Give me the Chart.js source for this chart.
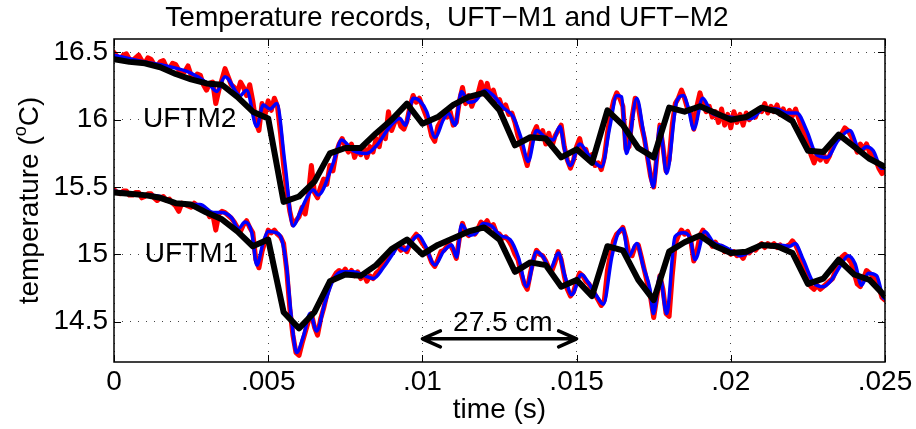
<!DOCTYPE html>
<html>
<head>
<meta charset="utf-8">
<script src="https://cdn.jsdelivr.net/npm/chart.js@4.4.0/dist/chart.umd.min.js"></script>
<style>
  html, body { margin: 0; padding: 0; background: #fff; }
  #wrap { width: 916px; height: 429px; }
</style>
</head>
<body>
<div id="wrap"><canvas id="tempChart" width="916" height="429"></canvas></div>
<script>
// ---- data ----
const xTicks = [0, 0.005, 0.01, 0.015, 0.02, 0.025];
const xTickLabels = ['0', '.005', '.01', '.015', '.02', '.025'];
const yTicks = [14.5, 15, 15.5, 16, 16.5];
const yTickLabels = ['14.5', '15', '15.5', '16', '16.5'];

// raw records (red), sampled every 0.1 ms
const redTime = Array.from({length: 251}, (_, i) => i / 10000);
const redM2 = [
  16.50,16.47,16.45,16.48,16.49,16.45,16.44,16.46,16.48,16.44,
  16.42,16.46,16.45,16.41,16.40,16.43,16.44,16.39,16.38,16.42,
  16.41,16.37,16.34,16.36,16.40,16.33,16.30,16.34,16.33,16.26,
  16.22,16.27,16.28,16.12,16.22,16.30,16.38,16.32,16.26,16.24,
  16.20,16.28,16.24,16.18,16.26,16.14,15.98,15.92,16.12,16.04,
  16.14,16.07,16.16,16.10,15.90,15.66,15.48,15.32,15.22,15.25,
  15.28,15.35,15.30,15.44,15.66,15.46,15.42,15.50,15.56,15.52,
  15.66,15.62,15.75,15.82,15.86,15.80,15.76,15.82,15.72,15.78,
  15.74,15.80,15.72,15.80,15.76,15.86,15.80,15.92,15.86,16.06,
  15.92,15.98,16.02,15.95,15.93,15.99,16.10,16.18,16.13,16.16,
  16.10,16.04,15.98,15.88,15.84,15.95,15.99,16.04,16.02,16.06,
  15.96,15.98,16.14,16.24,16.12,16.18,16.10,16.16,16.19,16.28,
  16.19,16.27,16.17,16.22,16.14,16.15,16.08,16.11,16.04,16.05,
  15.98,15.88,15.82,15.74,15.66,15.78,15.90,15.95,15.86,15.92,
  15.82,15.90,15.80,15.88,15.92,15.96,15.80,15.70,15.64,15.70,
  15.80,15.86,15.76,15.78,15.70,15.74,15.66,15.68,15.63,15.72,
  15.90,16.04,16.14,16.20,16.16,16.10,15.78,15.80,16.02,16.16,
  16.10,15.96,15.86,15.72,15.58,15.50,15.72,15.96,15.80,15.62,
  15.70,15.96,16.12,16.16,16.22,16.16,16.08,16.06,15.93,16.10,
  16.20,16.12,16.06,16.10,16.02,16.06,15.98,16.08,15.96,16.04,
  15.94,16.06,15.98,16.04,15.96,16.05,16.00,16.04,16.02,16.08,
  16.06,16.12,16.05,16.10,16.06,16.11,16.04,16.08,16.02,16.07,
  16.03,16.08,16.01,15.94,15.90,15.82,15.74,15.68,15.74,15.70,
  15.75,15.69,15.73,15.80,15.84,15.86,15.90,15.94,15.92,15.88,
  15.82,15.76,15.82,15.78,15.82,15.76,15.74,15.70,15.64,15.60,
  15.62
];
const redM1 = [
  15.48,15.46,15.45,15.47,15.47,15.44,15.44,15.46,15.46,15.42,
  15.43,15.45,15.45,15.42,15.40,15.42,15.43,15.40,15.41,15.38,
  15.36,15.32,15.38,15.37,15.36,15.35,15.38,15.36,15.35,15.34,
  15.33,15.28,15.30,15.18,15.30,15.32,15.31,15.29,15.27,15.24,
  15.20,15.17,15.22,15.25,15.20,15.16,14.96,14.90,15.02,15.10,
  15.18,15.16,15.18,15.15,15.13,15.08,14.88,14.60,14.40,14.27,
  14.25,14.34,14.42,14.50,14.56,14.46,14.40,14.52,14.60,14.70,
  14.78,14.82,14.86,14.88,14.86,14.89,14.85,14.88,14.84,14.87,
  14.82,14.85,14.80,14.84,14.82,14.86,14.88,14.92,14.94,14.98,
  15.02,15.04,15.06,15.03,15.05,15.02,15.08,15.12,15.15,15.12,
  15.08,15.05,15.00,14.94,14.91,14.96,15.02,15.03,15.06,15.07,
  15.03,14.97,15.12,15.23,15.16,15.14,15.17,15.15,15.19,15.24,
  15.22,15.25,15.20,15.22,15.16,15.15,15.12,15.13,15.10,15.06,
  15.00,14.96,14.86,14.78,14.74,14.86,14.96,15.03,15.00,14.99,
  14.95,14.90,14.88,14.94,15.02,14.96,14.84,14.74,14.69,14.72,
  14.80,14.86,14.84,14.80,14.78,14.74,14.70,14.66,14.62,14.66,
  14.88,15.00,15.10,15.15,15.17,15.20,15.12,15.00,14.99,15.06,
  15.07,14.98,14.88,14.78,14.68,14.53,14.68,14.84,14.74,14.56,
  14.54,14.84,15.08,15.14,15.18,15.15,15.17,15.11,14.95,15.02,
  15.14,15.18,15.12,15.10,15.06,15.09,15.05,15.06,15.02,15.03,
  15.00,15.02,14.99,15.00,14.97,15.02,15.01,15.04,15.03,15.06,
  15.08,15.05,15.08,15.06,15.08,15.05,15.07,15.04,15.06,15.07,
  15.10,15.07,15.02,14.94,14.86,14.80,14.76,14.74,14.77,14.74,
  14.76,14.78,14.80,14.82,14.88,14.93,14.98,15.00,14.97,14.94,
  14.86,14.78,14.76,14.82,14.88,14.86,14.84,14.82,14.76,14.68,
  14.66
];

// filtered records (blue), [time, temperature]
const blueM2 = [
  [0, 16.48], [0.001, 16.43], [0.0017, 16.40], [0.00246, 16.35], [0.0031, 16.26],
  [0.00333, 16.21], [0.0036, 16.32], [0.00409, 16.18], [0.0043, 16.22], [0.00463, 15.95],
  [0.00484, 16.11], [0.00506, 16.08], [0.00528, 16.12], [0.00554, 15.68], [0.00581, 15.21],
  [0.00603, 15.31], [0.00625, 15.42], [0.00646, 15.48], [0.00662, 15.44], [0.00711, 15.68],
  [0.00738, 15.85], [0.00776, 15.77], [0.00819, 15.75], [0.00852, 15.81], [0.00895, 15.95],
  [0.00927, 16.01], [0.00944, 15.96], [0.00971, 16.16], [0.00992, 16.14], [0.01014, 16.06],
  [0.01041, 15.87], [0.01068, 16.00], [0.01084, 16.05], [0.01106, 15.96], [0.01127, 16.21],
  [0.01149, 16.13], [0.01171, 16.14], [0.01203, 16.22], [0.0123, 16.18], [0.01262, 16.09],
  [0.01295, 16.02], [0.01322, 15.85], [0.01343, 15.69], [0.0137, 15.92], [0.01398, 15.87],
  [0.01424, 15.85], [0.01446, 15.95], [0.01462, 15.77], [0.01479, 15.66], [0.01511, 15.82],
  [0.01538, 15.74], [0.01581, 15.65], [0.01608, 15.95], [0.0163, 16.18], [0.01646, 16.17],
  [0.01662, 15.75], [0.01695, 16.16], [0.01716, 15.92], [0.01732, 15.70], [0.01749, 15.50],
  [0.0177, 15.95], [0.01792, 15.60], [0.01825, 16.14], [0.01846, 16.18], [0.01862, 16.09],
  [0.0188, 15.93], [0.01909, 16.16], [0.01938, 16.05], [0.01965, 16.03], [0.01997, 16.02],
  [0.02035, 16.01], [0.02068, 16.01], [0.02105, 16.08], [0.02149, 16.08], [0.02181, 16.05],
  [0.02214, 16.05], [0.02246, 15.92], [0.02278, 15.74], [0.02311, 15.72], [0.02349, 15.85],
  [0.02386, 15.92], [0.02419, 15.77], [0.0244, 15.80], [0.02462, 15.77], [0.02489, 15.64],
  [0.025, 15.64]
];
const blueM1 = [
  [0, 15.47], [0.00063, 15.45], [0.00106, 15.44], [0.00149, 15.43], [0.00192, 15.38],
  [0.00236, 15.37], [0.00279, 15.37], [0.00322, 15.31], [0.00349, 15.31], [0.00382, 15.27],
  [0.00403, 15.19], [0.00425, 15.24], [0.00447, 15.16], [0.00463, 14.92], [0.00484, 15.09],
  [0.005, 15.17], [0.00528, 15.16], [0.00544, 15.11], [0.0056, 14.90], [0.00576, 14.51],
  [0.00592, 14.27], [0.00614, 14.39], [0.00636, 14.56], [0.00657, 14.43], [0.00684, 14.64],
  [0.00711, 14.81], [0.00738, 14.87], [0.00776, 14.87], [0.00814, 14.84], [0.00841, 14.82],
  [0.00873, 14.90], [0.00906, 15.01], [0.00922, 15.06], [0.00944, 15.03], [0.0096, 15.08],
  [0.00987, 15.14], [0.01008, 15.07], [0.01041, 14.92], [0.01068, 15.02], [0.01095, 15.07],
  [0.01111, 14.98], [0.01127, 15.22], [0.01154, 15.14], [0.01176, 15.16], [0.01197, 15.23],
  [0.01225, 15.21], [0.01252, 15.14], [0.01284, 15.11], [0.01311, 14.98], [0.01338, 14.76],
  [0.0137, 15.02], [0.01392, 14.98], [0.01414, 14.89], [0.01441, 15.01], [0.01462, 14.84],
  [0.01484, 14.70], [0.01516, 14.85], [0.01538, 14.79], [0.01565, 14.69], [0.01587, 14.63],
  [0.01614, 14.98], [0.01635, 15.16], [0.01651, 15.19], [0.01668, 14.98], [0.01695, 15.08],
  [0.01716, 14.91], [0.01738, 14.74], [0.01749, 14.56], [0.0177, 14.84], [0.01792, 14.56],
  [0.01819, 15.13], [0.01846, 15.16], [0.01868, 15.12], [0.01884, 14.96], [0.01916, 15.17],
  [0.01943, 15.09], [0.01976, 15.06], [0.02008, 15.02], [0.0203, 14.99], [0.02062, 15.02],
  [0.02105, 15.07], [0.02149, 15.07], [0.02192, 15.06], [0.02208, 15.08], [0.02235, 14.96],
  [0.02268, 14.79], [0.023, 14.76], [0.02327, 14.81], [0.02354, 14.91], [0.02381, 14.99],
  [0.02403, 14.93], [0.02424, 14.77], [0.02446, 14.86], [0.02473, 14.84], [0.02494, 14.68],
  [0.025, 14.67]
];

// smoothed records (black), every 0.5 ms
const blackTime = Array.from({length: 51}, (_, i) => i / 2000);
const blackM2 = [
  16.45,16.43,16.42,16.39,16.34,16.30,16.27,16.26,16.17,16.06,
  16.01,15.39,15.43,15.54,15.75,15.79,15.79,15.90,16.00,16.12,
  15.97,16.02,16.11,16.17,16.20,16.07,15.81,15.87,15.86,15.72,
  15.78,15.68,16.07,15.96,15.79,15.72,16.09,16.06,16.10,16.05,
  16.00,16.02,16.09,16.06,15.99,15.77,15.76,15.89,15.80,15.71,
  15.65
];
const blackM1 = [
  15.46,15.45,15.44,15.42,15.38,15.37,15.31,15.26,15.17,15.06,
  15.11,14.57,14.45,14.57,14.80,14.85,14.84,14.92,15.04,15.11,
  15.00,15.07,15.12,15.17,15.20,15.11,14.87,14.94,14.92,14.76,
  14.81,14.69,15.06,15.03,14.81,14.66,15.02,15.09,15.14,15.06,
  15.01,15.02,15.07,15.06,15.01,14.78,14.82,14.96,14.85,14.81,
  14.69
];

// ---- text and annotations ----
const chartTitle = 'Temperature records,  UFT\u2212M1 and UFT\u2212M2';
const xTitle = 'time (s)';
const seriesLabels = [
  {text: 'UFTM2', x: 0.00094, y: 16.0},
  {text: 'UFTM1', x: 0.001, y: 15.0}
];
const spanLabel = {text: '27.5 cm', x: 0.01261, y: 14.485};
const spanArrow = {from: 0.01, to: 0.015, y: 14.372};

const FONT = "'Liberation Sans', Arial, Helvetica, sans-serif";

const pairs = (xs, ys) => xs.map((x, i) => ({x: x, y: ys[i]}));
const pts = arr => arr.map(p => ({x: p[0], y: p[1]}));

// box, inward ticks, labels, arrow, title
const decorations = {
  id: 'decorations',
  afterDraw(chart) {
    const c = chart.ctx;
    const a = chart.chartArea;
    const xs = chart.scales.x, ys = chart.scales.y;
    c.save();
    c.strokeStyle = '#000';
    c.lineWidth = 1.5;
    c.strokeRect(a.left, a.top, a.right - a.left, a.bottom - a.top);
    c.lineWidth = 1;
    c.beginPath();
    xTicks.forEach(v => {
      const px = Math.round(xs.getPixelForValue(v)) + 0.5;
      c.moveTo(px, a.bottom); c.lineTo(px, a.bottom - 7);
      c.moveTo(px, a.top); c.lineTo(px, a.top + 7);
    });
    yTicks.forEach(v => {
      const py = Math.round(ys.getPixelForValue(v)) + 0.5;
      c.moveTo(a.left, py); c.lineTo(a.left + 7, py);
      c.moveTo(a.right, py); c.lineTo(a.right - 7, py);
    });
    c.stroke();

    c.fillStyle = '#000';
    c.font = '28px ' + FONT;
    c.textBaseline = 'middle';
    c.textAlign = 'left';
    seriesLabels.forEach(l => {
      c.fillText(l.text, xs.getPixelForValue(l.x), ys.getPixelForValue(l.y));
    });
    c.textAlign = 'center';
    c.fillText(spanLabel.text, xs.getPixelForValue(spanLabel.x), ys.getPixelForValue(spanLabel.y));

    // double arrow
    const x1 = xs.getPixelForValue(spanArrow.from);
    const x2 = xs.getPixelForValue(spanArrow.to);
    const ay = ys.getPixelForValue(spanArrow.y);
    c.lineWidth = 3.5;
    c.lineCap = 'round';
    c.lineJoin = 'round';
    c.beginPath();
    c.moveTo(x1, ay); c.lineTo(x2, ay);
    c.moveTo(x1 + 18, ay - 8); c.lineTo(x1, ay); c.lineTo(x1 + 18, ay + 8);
    c.moveTo(x2 - 18, ay - 8); c.lineTo(x2, ay); c.lineTo(x2 - 18, ay + 8);
    c.stroke();

    // title
    c.font = '28px ' + FONT;
    c.textAlign = 'center';
    c.textBaseline = 'middle';
    c.fillText(chartTitle, 447, 18);

    // y axis title with superscript o
    const big = '28px ' + FONT, small = '18px ' + FONT;
    c.font = big;
    const w1 = c.measureText('temperature (').width;
    const w3 = c.measureText('C)').width;
    c.font = small;
    const w2 = c.measureText('o').width;
    const total = w1 + w2 + w3;
    c.translate(30, (a.top + a.bottom) / 2);
    c.rotate(-Math.PI / 2);
    c.textAlign = 'left';
    c.textBaseline = 'middle';
    let tx = -total / 2;
    c.font = big;
    c.fillText('temperature (', tx, 0);
    tx += w1;
    c.font = small;
    c.fillText('o', tx, -9);
    tx += w2;
    c.font = big;
    c.fillText('C)', tx, 0);
    c.restore();
  }
};

const ctx = document.getElementById('tempChart');
const myChart = new Chart(ctx, {
  type: 'line',
  data: {
    datasets: [
      { label: 'UFTM2 raw', data: pairs(redTime, redM2), borderColor: '#ff0000', borderWidth: 5, order: 3 },
      { label: 'UFTM1 raw', data: pairs(redTime, redM1), borderColor: '#ff0000', borderWidth: 5, order: 3 },
      { label: 'UFTM2 filtered', data: pts(blueM2), borderColor: '#0000ff', borderWidth: 3.5, order: 2, cubicInterpolationMode: 'monotone' },
      { label: 'UFTM1 filtered', data: pts(blueM1), borderColor: '#0000ff', borderWidth: 3.5, order: 2, cubicInterpolationMode: 'monotone' },
      { label: 'UFTM2 smoothed', data: pairs(blackTime, blackM2), borderColor: '#000000', borderWidth: 6, order: 1 },
      { label: 'UFTM1 smoothed', data: pairs(blackTime, blackM1), borderColor: '#000000', borderWidth: 6, order: 1 }
    ]
  },
  options: {
    responsive: false,
    animation: false,
    events: [],
    elements: {
      point: { radius: 0 },
      line: { tension: 0, fill: false, borderJoinStyle: 'round', borderCapStyle: 'round' }
    },
    layout: { padding: { top: 39, right: 31, left: 0, bottom: 0 } },
    plugins: {
      legend: { display: false },
      tooltip: { enabled: false },
      title: { display: false }
    },
    scales: {
      x: {
        type: 'linear',
        min: 0,
        max: 0.025,
        afterBuildTicks: s => { s.ticks = xTicks.map(v => ({value: v})); },
        afterFit: s => { s.height = 67; },
        ticks: {
          autoSkip: false,
          maxRotation: 0,
          padding: 3,
          color: '#000',
          font: { family: FONT, size: 28 },
          callback: (v, i) => xTickLabels[i]
        },
        grid: { color: '#444', lineWidth: 1, drawTicks: false },
        border: { display: false, dash: [1, 7] },
        title: { display: true, text: xTitle, color: '#000', font: { family: FONT, size: 28 }, padding: { top: 0, bottom: 2 } }
      },
      y: {
        min: 14.2,
        max: 16.6,
        afterBuildTicks: s => { s.ticks = yTicks.map(v => ({value: v})); },
        afterFit: s => { s.width = 114; },
        ticks: {
          padding: 6,
          color: '#000',
          font: { family: FONT, size: 28 },
          callback: (v, i) => yTickLabels[i]
        },
        grid: { color: '#444', lineWidth: 1, drawTicks: false },
        border: { display: false, dash: [1, 7] }
      }
    }
  },
  plugins: [decorations]
});
</script>
</body>
</html>
